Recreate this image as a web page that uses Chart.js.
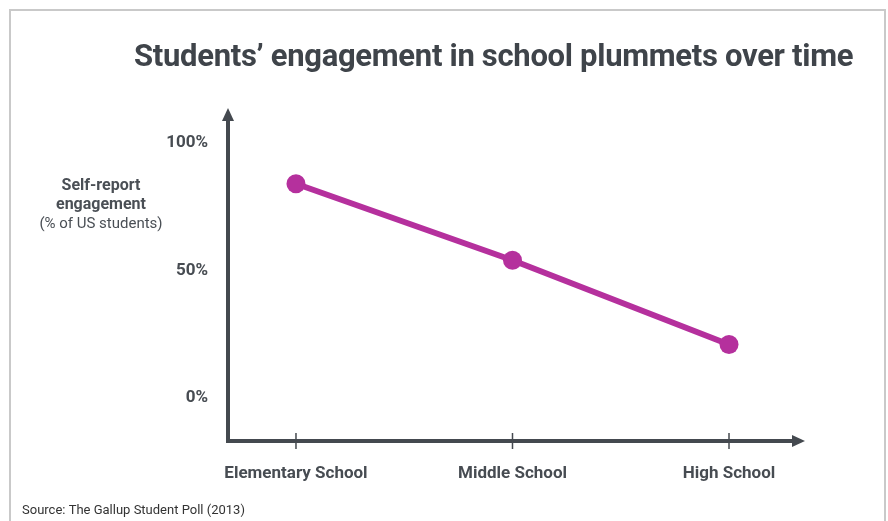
<!DOCTYPE html>
<html>
<head>
<meta charset="utf-8">
<script src="https://cdn.jsdelivr.net/npm/chart.js@4/dist/chart.umd.min.js"></script>
<style>
  html, body { margin: 0; padding: 0; background: #fff; }
  canvas { display: block; }
</style>
</head>
<body>
<canvas id="chart" width="888" height="521"></canvas>
<script>
const titulo = 'Students\u2019 engagement in school plummets over time';
const categorias = ['Elementary School', 'Middle School', 'High School'];
const engajamento = [84, 54, 21];
const ticksY = [0, 50, 100];
const tituloEixoY = ['Self-report', 'engagement', '(% of US students)'];
const fonte = 'Source: The Gallup Student Poll (2013)';

const CINZA = '#44494f';
const MAGENTA = '#b5309d';

// moldura, eixos com setas, titulos
const decoracao = {
  id: 'decoracao',
  beforeDraw(chart) {
    const ctx = chart.ctx;
    ctx.save();
    ctx.strokeStyle = '#c9c9c9';
    ctx.lineWidth = 2;
    ctx.beginPath();
    ctx.moveTo(10, 521);
    ctx.lineTo(10, 10);
    ctx.lineTo(885, 10);
    ctx.lineTo(885, 521);
    ctx.stroke();
    ctx.restore();
  },
  afterDraw(chart) {
    const ctx = chart.ctx;
    const a = chart.chartArea;
    const x = chart.scales.x;
    ctx.save();
    ctx.strokeStyle = CINZA;
    ctx.fillStyle = CINZA;
    ctx.lineWidth = 4;
    ctx.beginPath();
    ctx.moveTo(a.left, a.top + 10);
    ctx.lineTo(a.left, a.bottom);
    ctx.lineTo(a.right - 10, a.bottom);
    ctx.stroke();
    // setas
    ctx.beginPath();
    ctx.moveTo(a.left, a.top);
    ctx.lineTo(a.left - 6, a.top + 13);
    ctx.lineTo(a.left + 6, a.top + 13);
    ctx.closePath();
    ctx.fill();
    ctx.beginPath();
    ctx.moveTo(a.right, a.bottom);
    ctx.lineTo(a.right - 13, a.bottom - 6);
    ctx.lineTo(a.right - 13, a.bottom + 6);
    ctx.closePath();
    ctx.fill();
    // marcas do eixo x
    ctx.lineWidth = 1.5;
    categorias.forEach((c, i) => {
      const px = x.getPixelForValue(i);
      ctx.beginPath();
      ctx.moveTo(px, a.bottom - 8);
      ctx.lineTo(px, a.bottom + 8);
      ctx.stroke();
    });

    ctx.fillStyle = '#3f444a';
    ctx.textBaseline = 'alphabetic';
    ctx.textAlign = 'left';
    ctx.font = 'bold 31px Roboto';
    ctx.letterSpacing = '-0.3px';
    ctx.fillText(titulo, 134, 66);
    ctx.letterSpacing = '0px';

    ctx.textAlign = 'center';
    ctx.fillStyle = '#4a4f55';
    tituloEixoY.forEach((t, i) => {
      ctx.font = i < 2 ? 'bold 16px Roboto' : '15px Roboto';
      ctx.fillText(t, 101, 190 + i * 19);
    });

    ctx.textAlign = 'left';
    ctx.fillStyle = '#333';
    ctx.font = '13px Roboto';
    ctx.fillText(fonte, 22, 514);
    ctx.restore();
  }
};

new Chart(document.getElementById('chart'), {
  type: 'line',
  data: {
    datasets: [{
      data: engajamento.map((v, i) => ({ x: i, y: v })),
      borderColor: MAGENTA,
      backgroundColor: MAGENTA,
      borderWidth: 6,
      pointRadius: 9.5,
      pointHoverRadius: 9.5,
      pointBorderWidth: 0,
      tension: 0
    }]
  },
  options: {
    responsive: false,
    animation: false,
    devicePixelRatio: 1,
    layout: { padding: { top: 108, right: 83, bottom: 0, left: 0 } },
    plugins: { legend: { display: false }, tooltip: { enabled: false } },
    scales: {
      x: {
        type: 'linear',
        min: -0.314,
        max: 2.351,
        afterBuildTicks: s => { s.ticks = categorias.map((c, i) => ({ value: i })); },
        afterFit: s => { s.height = 80; },
        grid: { display: false, drawTicks: false },
        border: { display: false },
        ticks: {
          padding: 23,
          color: '#474c52',
          font: { family: 'Roboto', size: 17, weight: 'bold' },
          callback: v => categorias[v]
        }
      },
      y: {
        min: -16.86,
        max: 113.7,
        afterBuildTicks: s => { s.ticks = ticksY.map(v => ({ value: v })); },
        afterFit: s => { s.width = 228; },
        grid: { display: false, drawTicks: false },
        border: { display: false },
        ticks: {
          padding: 20,
          color: '#474c52',
          font: { family: 'Roboto', size: 17, weight: 'bold' },
          callback: v => v + '%'
        }
      }
    }
  },
  plugins: [decoracao]
});
</script>
</body>
</html>
